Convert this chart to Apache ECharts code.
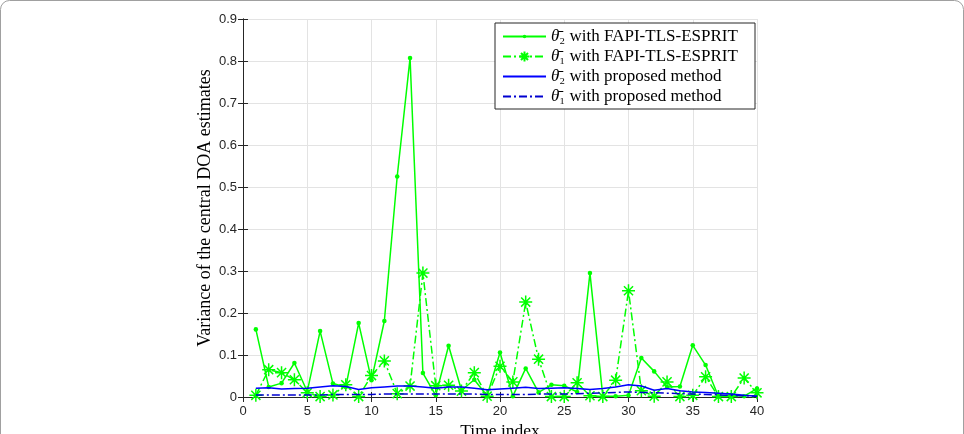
<!DOCTYPE html>
<html>
<head>
<meta charset="utf-8">
<script src="https://cdn.jsdelivr.net/npm/echarts@6/dist/echarts.min.js"></script>
<style>
  html, body { margin: 0; padding: 0; background: #fff; }
  #chart { width: 964px; height: 434px; }
</style>
</head>
<body>
<div id="chart"></div>
<script>
// time index 1..40
const timeIndex = [1, 2, 3, 4, 5, 6, 7, 8, 9, 10, 11, 12, 13, 14, 15, 16, 17, 18, 19, 20,
  21, 22, 23, 24, 25, 26, 27, 28, 29, 30, 31, 32, 33, 34, 35, 36, 37, 38, 39, 40];

// theta2 with FAPI-TLS-ESPRIT (solid green, dots)
const theta2Fapi = [0.161, 0.024, 0.033, 0.081, 0.013, 0.157, 0.032, 0.024, 0.176, 0.040,
  0.181, 0.525, 0.807, 0.057, 0.004, 0.122, 0.016, 0.041, 0.003, 0.106,
  0.002, 0.068, 0.011, 0.029, 0.027, 0.012, 0.295, 0.002, 0.002, 0.004,
  0.093, 0.061, 0.024, 0.025, 0.123, 0.076, 0.001, 0.005, 0.002, 0.020];

// theta1 with FAPI-TLS-ESPRIT (dash-dot green, asterisks)
const theta1Fapi = [0.004, 0.065, 0.058, 0.041, 0.010, 0.001, 0.005, 0.029, 0.001, 0.051,
  0.086, 0.008, 0.026, 0.295, 0.027, 0.028, 0.014, 0.058, 0.002, 0.073,
  0.036, 0.226, 0.090, 0.001, 0.001, 0.034, 0.003, 0.001, 0.040, 0.253,
  0.015, 0.002, 0.036, 0.001, 0.004, 0.048, 0.001, 0.001, 0.045, 0.010];

// theta2 with proposed method (solid blue)
const theta2Prop = [0.021, 0.022, 0.019, 0.020, 0.021, 0.024, 0.027, 0.025, 0.018, 0.022,
  0.024, 0.026, 0.026, 0.024, 0.021, 0.024, 0.024, 0.021, 0.017, 0.019,
  0.021, 0.023, 0.020, 0.021, 0.022, 0.020, 0.018, 0.020, 0.024, 0.029,
  0.026, 0.016, 0.020, 0.015, 0.012, 0.011, 0.009, 0.007, 0.004, 0.002];

// theta1 with proposed method (dash-dot blue)
const theta1Prop = [0.005, 0.005, 0.005, 0.005, 0.005, 0.005, 0.006, 0.006, 0.006, 0.006,
  0.007, 0.007, 0.007, 0.007, 0.007, 0.007, 0.007, 0.007, 0.006, 0.006,
  0.006, 0.006, 0.007, 0.007, 0.007, 0.008, 0.009, 0.010, 0.011, 0.012,
  0.011, 0.010, 0.009, 0.008, 0.007, 0.006, 0.005, 0.004, 0.003, 0.002];

const legendNames = [
  "θ̄₂ with FAPI-TLS-ESPRIT",
  "θ̄₁ with FAPI-TLS-ESPRIT",
  "θ̄₂ with proposed method",
  "θ̄₁ with proposed method"
];

const pair = arr => arr.map((v, i) => [timeIndex[i], v]);

const serif = "'Liberation Serif', 'DejaVu Serif', serif";
const sans = "'Liberation Sans', Arial, sans-serif";
const green = "#00ff00";
const blue = "#0000ff";
const dashDot = [8, 3, 2, 3];
// asterisk drawn as strokes, dot padded inside a larger box so the legend keeps it small
const asterisk = "path://M0,-10L0,10M-10,0L10,0M-7,-7L7,7M-7,7L7,-7";
const dot = "path://M-10,-10M10,10M-3.5,0A3.5,3.5,0,1,0,3.5,0A3.5,3.5,0,1,0,-3.5,0Z";

const chart = echarts.init(document.getElementById("chart"));

const frameAxis = {
  axisLine: { show: true, lineStyle: { color: "#262626", width: 1 } },
  axisTick: { show: true, inside: true, length: 5, lineStyle: { color: "#262626" } },
  axisLabel: { show: false },
  splitLine: { show: false }
};

chart.setOption({
  backgroundColor: "#fff",
  animation: false,
  graphic: [
    {
      type: "rect",
      shape: { x: 0.5, y: 0.5, width: 963, height: 460, r: 9 },
      style: { fill: "none", stroke: "#a0a0a0", lineWidth: 1 },
      silent: true,
      z: -1
    }
  ],
  grid: { left: 243, right: 207, top: 19, bottom: 37, containLabel: false, outerBoundsMode: "none" },
  legend: {
    orient: "vertical",
    left: 495,
    top: 23,
    padding: [5, 8, 4, 7],
    itemGap: 3,
    itemWidth: 43,
    itemHeight: 12.5,
    backgroundColor: "#fff",
    borderColor: "#262626",
    borderWidth: 1,
    borderRadius: 0,
    textStyle: {
      fontFamily: serif, fontSize: 17, color: "#000", width: 196, lineHeight: 13,
      rich: {
        th: { fontFamily: serif, fontSize: 17, fontStyle: "italic", lineHeight: 13 },
        txt: { fontFamily: serif, fontSize: 17, lineHeight: 13 }
      }
    },
    formatter: name => "{th|" + name.slice(0, 2) + "}{txt|" + name.slice(2) + "}",
    data: [
      { name: legendNames[0] },
      { name: legendNames[1] },
      { name: legendNames[2], itemStyle: { opacity: 0 } },
      { name: legendNames[3], itemStyle: { opacity: 0 } }
    ]
  },
  xAxis: [
    {
      type: "value",
      min: 0,
      max: 40,
      interval: 5,
      name: "Time index",
      nameLocation: "middle",
      nameGap: 25,
      nameMoveOverlap: false,
      nameTextStyle: { fontFamily: serif, fontSize: 17.5, color: "#000" },
      axisLine: { show: true, lineStyle: { color: "#262626" } },
      axisTick: { show: true, inside: true, length: 5, lineStyle: { color: "#262626" } },
      axisLabel: { fontFamily: sans, fontSize: 13, color: "#262626", margin: 8 },
      splitLine: { show: true, lineStyle: { color: "#e3e3e3", width: 1 } }
    },
    Object.assign({ type: "value", min: 0, max: 40, interval: 5, position: "top" }, frameAxis)
  ],
  yAxis: [
    {
      type: "value",
      min: 0,
      max: 0.9,
      interval: 0.1,
      name: "Variance of the central DOA estimates",
      nameLocation: "middle",
      nameGap: 29,
      nameMoveOverlap: false,
      nameTextStyle: { fontFamily: serif, fontSize: 18, color: "#000" },
      axisLine: { show: true, lineStyle: { color: "#262626" } },
      axisTick: { show: true, inside: true, length: 5, lineStyle: { color: "#262626" } },
      axisLabel: {
        fontFamily: sans, fontSize: 13, color: "#262626", margin: 6,
        formatter: v => String(Math.round(v * 10) / 10)
      },
      splitLine: { show: true, lineStyle: { color: "#e3e3e3", width: 1 } }
    },
    Object.assign({ type: "value", min: 0, max: 0.9, interval: 0.1, position: "right" }, frameAxis)
  ],
  series: [
    {
      name: legendNames[0],
      type: "line",
      data: pair(theta2Fapi),
      symbol: dot,
      symbolSize: 13,
      itemStyle: { color: green },
      lineStyle: { color: green, width: 1.5 },
      z: 3
    },
    {
      name: legendNames[1],
      type: "line",
      data: pair(theta1Fapi),
      symbol: asterisk,
      symbolSize: 13,
      itemStyle: { color: "none", borderColor: green, borderWidth: 1.5 },
      lineStyle: { color: green, width: 1.5, type: dashDot },
      z: 3
    },
    {
      name: legendNames[2],
      type: "line",
      data: pair(theta2Prop),
      symbol: "none",
      itemStyle: { color: blue },
      lineStyle: { color: blue, width: 1.5 },
      z: 4
    },
    {
      name: legendNames[3],
      type: "line",
      data: pair(theta1Prop),
      symbol: "none",
      itemStyle: { color: "#0000d0" },
      lineStyle: { color: "#0000d0", width: 1.5, type: dashDot },
      z: 4
    }
  ]
});
</script>
</body>
</html>
